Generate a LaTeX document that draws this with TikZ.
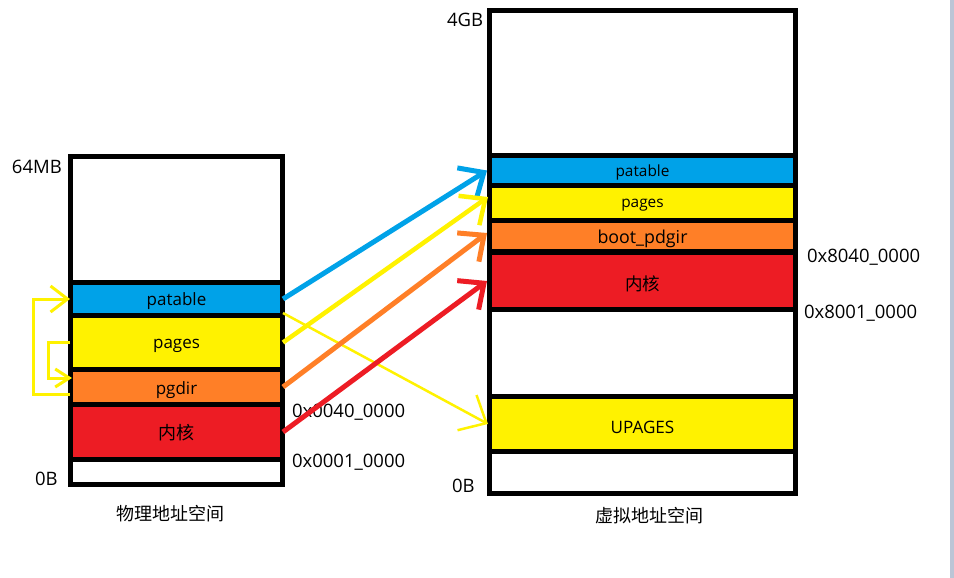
\documentclass[tikz,border=0pt]{standalone}
\usepackage{fontspec}
\setmainfont{Open Sans}
\newfontfamily\cjk{Noto Sans CJK SC}
\usetikzlibrary{arrows.meta}
\definecolor{mblue}{RGB}{0,162,232}
\definecolor{myellow}{RGB}{255,242,0}
\definecolor{morange}{RGB}{255,127,39}
\definecolor{mred}{RGB}{237,28,36}
\definecolor{edgegray}{RGB}{188,197,214}
\newcommand{\fs}[1]{\fontsize{#1}{#1}\selectfont}
\newcommand{\dn}[2]{\raisebox{-#1pt}[\height][\depth]{#2}}
\begin{document}
\begin{tikzpicture}[x=1pt,y=-1pt,
  box/.style={rectangle, inner sep=0pt, outer sep=0pt, draw=none},
  pw/.style={box, minimum width=207pt},
  vw/.style={box, minimum width=301pt},
  lab/.style={inner sep=0pt, outer sep=0pt, font=\fs{18.5}},
  captxt/.style={inner sep=0pt, outer sep=0pt, font=\cjk\fs{18}},
  thick arrow/.style={line width=5pt, -{Straight Barb[length=20pt,width=36pt]}},
  thin arrow/.style={myellow, line width=2.5pt, -{Straight Barb[length=22pt,width=40pt]}},
  bracket/.style={myellow, line width=3pt}]
\useasboundingbox (0,0) rectangle (954,578);
\fill[white] (0,0) rectangle (954,578);
\fill[edgegray] (950,0) rectangle (954,578);

% physical address space
\node[box, fill=black, minimum width=217pt, minimum height=333pt] (pframe) at (176.5,320.5) {};
\node[pw, fill=white, minimum height=121pt] (ptop) at (176.5,219.5) {};
\node[pw, fill=mblue, minimum height=28pt, font=\fs{17}] (ppat) at (176.5,299) {\dn{2}{patable}};
\node[pw, fill=myellow, minimum height=49pt, font=\fs{17}] (ppag) at (176.5,342.5) {\dn{3}{pages}};
\node[pw, fill=morange, minimum height=30pt, font=\fs{17}] (porg) at (176.5,387) {\dn{3}{pgdir}};
\node[pw, fill=mred, minimum height=50pt, font=\cjk\fs{18}] (pker) at (176.5,432) {\dn{1}{内核}};
\node[pw, fill=white, minimum height=20pt] (pbot) at (176.5,472) {};

% virtual address space
\node[box, fill=black, minimum width=311pt, minimum height=488pt] (vframe) at (642.5,252) {};
\node[vw, fill=white, minimum height=140pt] (vtop) at (642.5,83) {};
\node[vw, fill=mblue, minimum height=25pt, font=\fs{15.4}] (vpat) at (642.5,170.5) {\dn{2}{patable}};
\node[vw, fill=myellow, minimum height=30pt, font=\fs{15.4}] (vpag) at (642.5,203) {\dn{2}{pages}};
\node[vw, fill=morange, minimum height=26pt, font=\fs{17.8}] (vorg) at (642.5,236) {\dn{3}{boot\_pdgir}};
\node[vw, fill=mred, minimum height=52pt, font=\cjk\fs{17.5}] (vker) at (642.5,281) {\dn{3}{内核}};
\node[vw, fill=white, minimum height=82pt] (vmid) at (642.5,353) {};
\node[vw, fill=myellow, minimum height=50pt, font=\fs{17.1}] (vup) at (642.5,424) {\dn{3.5}{UPAGES}};
\node[vw, fill=white, minimum height=37pt] (vbot) at (642.5,472.5) {};

% labels
\node[lab, anchor=base west] (l64) at (12,173) {64MB};
\node[lab, anchor=base west] (l0p) at (35,485) {0B};
\node[lab, anchor=base west] (l4g) at (447,27) {4GB};
\node[lab, anchor=base west] (l0v) at (452,492) {0B};
\node[lab, anchor=base west] (h1) at (292,417) {0x0040\_0000};
\node[lab, anchor=base west] (h2) at (292,467) {0x0001\_0000};
\node[lab, anchor=base west] (h3) at (807,262) {0x8040\_0000};
\node[lab, anchor=base west] (h4) at (804,318) {0x8001\_0000};
\node[captxt, anchor=base] (cp) at (170.5,520) {物理地址空间};
\node[captxt, anchor=base] (cv) at (649,522) {虚拟地址空间};

% mapping arrows
\draw[thin arrow] ([xshift=3pt]ppat.south east) -- ([xshift=-4pt]vup.west);
\draw[thick arrow, mblue] ([xshift=3pt]ppat.east) -- ([xshift=-5pt]vpat.west);
\draw[thick arrow, myellow, line width=4.5pt] ([xshift=3pt]ppag.east) -- ([xshift=-4pt,yshift=6pt]vpag.west);
\draw[thick arrow, morange] ([xshift=3pt]porg.east) -- ([xshift=-5pt,yshift=3pt]vorg.west);
\draw[thick arrow, mred] ([xshift=3pt]pker.east) -- ([xshift=-5pt]vker.west);

% left brackets
\draw[bracket, -{Straight Barb[length=17pt,width=26pt]}] ([xshift=-3pt,yshift=-7pt]porg.west) -- ++(-37,0) |- ([xshift=-3pt]ppat.west);
\draw[bracket, -{Straight Barb[length=14pt,width=18pt]}] ([xshift=-3pt]ppag.west) -- ++(-22,0) |- ([xshift=-1pt,yshift=9pt]porg.west);
\end{tikzpicture}
\end{document}
